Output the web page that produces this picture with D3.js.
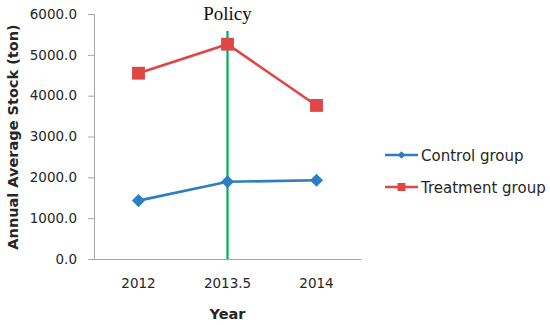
<!DOCTYPE html>
<html><head><meta charset="utf-8">
<script src="https://cdn.jsdelivr.net/npm/d3@7"></script>
<style>body{margin:0;background:#fff}svg{display:block}</style>
</head><body>
<svg id="chart" width="550" height="325"></svg>
<script>
const categories = ["2012", "2013.5", "2014"];
const control = [1430, 1890, 1930];
const treatment = [4550, 5260, 3760];
const yTicks = [0, 1000, 2000, 3000, 4000, 5000, 6000];
const seriesNames = ["Control group", "Treatment group"];
const policyAt = "2013.5";

const svg = d3.select("#chart");
const m = {left: 94, right: 361, top: 14, bottom: 259};
const x = d3.scaleBand().domain(categories).range([m.left, m.right]);
const y = d3.scaleLinear().domain([0, 6000]).range([m.bottom, m.top]);
const cx = c => x(c) + x.bandwidth() / 2;
const tickFont = "DejaVu Sans, sans-serif";
const axisCol = "#a6a6a6";

// y axis
const ya = svg.append("g").attr("transform", `translate(${m.left},0)`)
  .call(d3.axisLeft(y).tickValues(yTicks).tickSize(6).tickPadding(11).tickFormat(d3.format(".1f")));
ya.select(".domain").attr("stroke", axisCol);
ya.selectAll(".tick line").attr("stroke", axisCol);
ya.selectAll("text").attr("font-family", tickFont).attr("font-size", 13.5).attr("fill", "#262626");

// x axis
const xa = svg.append("g").attr("transform", `translate(0,${m.bottom})`)
  .call(d3.axisBottom(x).tickSize(0).tickPadding(19).tickSizeOuter(0));
xa.select(".domain").attr("stroke", axisCol);
xa.selectAll("text").attr("font-family", tickFont).attr("font-size", 13.5).attr("fill", "#262626");

// policy line
svg.append("line").attr("x1", cx(policyAt)).attr("x2", cx(policyAt))
  .attr("y1", 31).attr("y2", m.bottom).attr("stroke", "#00b050").attr("stroke-width", 2.2);
svg.append("text").attr("x", cx(policyAt)).attr("y", 20).attr("text-anchor", "middle")
  .attr("font-family", "Liberation Serif, serif").attr("font-size", 19).attr("fill", "#111").text("Policy");

const line = d3.line().x((d, i) => cx(categories[i])).y(d => y(d));
const cCol = "#2e7dc4", tCol = "#e04646";

svg.append("path").datum(treatment).attr("d", line).attr("fill", "none").attr("stroke", tCol).attr("stroke-width", 2.6);
svg.append("path").datum(control).attr("d", line).attr("fill", "none").attr("stroke", cCol).attr("stroke-width", 2.6);

const sq = d3.symbol().type(d3.symbolSquare).size(165);
const dia = d3.symbol().type(d3.symbolSquare).size(85);
svg.selectAll(".tm").data(treatment).join("path")
  .attr("transform", (d, i) => `translate(${cx(categories[i])},${y(d)})`).attr("d", sq).attr("fill", tCol);
svg.selectAll(".cm").data(control).join("path")
  .attr("transform", (d, i) => `translate(${cx(categories[i])},${y(d)}) rotate(45)`).attr("d", dia).attr("fill", cCol);

// legend
const lg = [{n: seriesNames[0], c: cCol, s: d3.symbol().type(d3.symbolSquare).size(28), r: 45},
            {n: seriesNames[1], c: tCol, s: d3.symbol().type(d3.symbolSquare).size(64), r: 0}];
lg.forEach((d, i) => {
  const ly = 155 + i * 32;
  svg.append("line").attr("x1", 385).attr("x2", 418).attr("y1", ly).attr("y2", ly).attr("stroke", d.c).attr("stroke-width", 2.6);
  svg.append("path").attr("transform", `translate(401.5,${ly}) rotate(${d.r})`).attr("d", d.s).attr("fill", d.c);
  svg.append("text").attr("x", 421).attr("y", ly + 5.5).attr("font-family", tickFont).attr("font-size", 15)
    .attr("fill", "#262626").text(d.n);
});

// axis titles
svg.append("text").attr("x", cx(policyAt)).attr("y", 319).attr("text-anchor", "middle")
  .attr("font-family", tickFont).attr("font-weight", "bold").attr("font-size", 14.5).attr("fill", "#262626").text("Year");
svg.append("text").attr("transform", "translate(18,137) rotate(-90)").attr("text-anchor", "middle")
  .attr("font-family", tickFont).attr("font-weight", "bold").attr("font-size", 14.5).attr("fill", "#262626")
  .text("Annual Average Stock (ton)");
</script>
</body></html>
